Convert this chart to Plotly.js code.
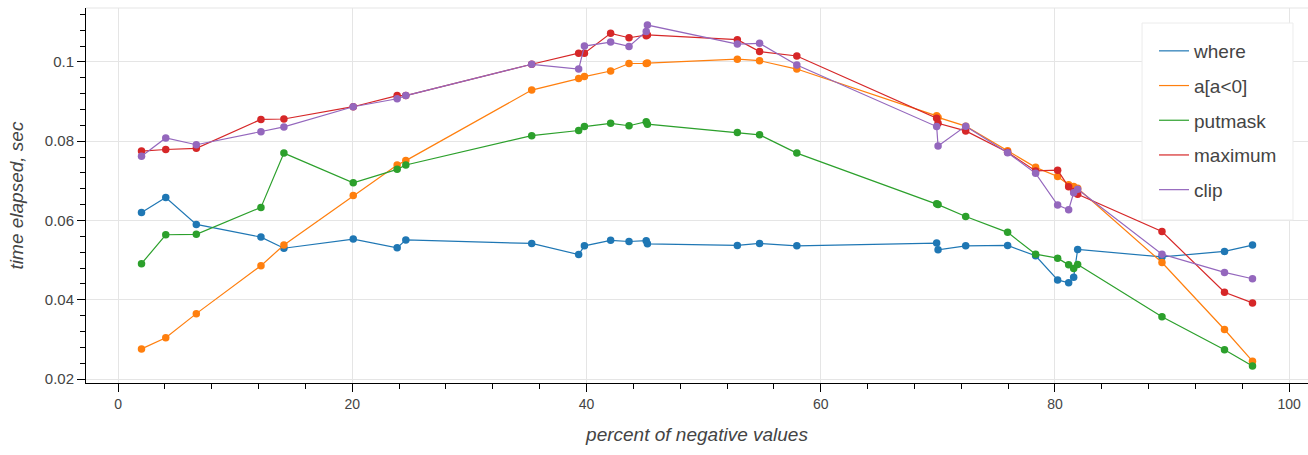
<!DOCTYPE html>
<html>
<head>
<meta charset="utf-8">
<script src="https://cdn.plot.ly/plotly-3.0.1.min.js"></script>
<style>html,body{margin:0;padding:0;background:#fff;overflow:hidden;}#chart{width:1308px;height:455px;}</style>
</head>
<body>
<div id="chart"></div>
<script>
const percentNegative = [2.0, 4.07, 6.68, 12.2, 14.16, 20.08, 23.83, 24.57, 35.32, 39.33, 39.82, 42.06, 43.63, 45.1, 45.2, 52.88, 54.78, 57.96, 69.9, 70.02, 72.38, 75.96, 78.35, 80.23, 81.17, 81.6, 81.94, 89.14, 94.48, 96.87];

const whereTimes = [0.0620, 0.0658, 0.0590, 0.0558, 0.0530, 0.0553, 0.0531, 0.0551, 0.0542, 0.0514, 0.0536, 0.0550, 0.0547, 0.0549, 0.0541, 0.0537, 0.0542, 0.0536, 0.0543, 0.0526, 0.0536, 0.0537, 0.0511, 0.0450, 0.0443, 0.0457, 0.0527, 0.0508, 0.0522, 0.0538];

const maskTimes = [0.0276, 0.0304, 0.0365, 0.0486, 0.0538, 0.0663, 0.0740, 0.0751, 0.0929, 0.0958, 0.0963, 0.0977, 0.0996, 0.0996, 0.0997, 0.1007, 0.1003, 0.0982, 0.0864, 0.0860, 0.0838, 0.0776, 0.0734, 0.0711, 0.0690, 0.0686, 0.0681, 0.0494, 0.0325, 0.0245];

const putmaskTimes = [0.0491, 0.0564, 0.0565, 0.0633, 0.0770, 0.0695, 0.0729, 0.0740, 0.0814, 0.0827, 0.0837, 0.0845, 0.0839, 0.0849, 0.0843, 0.0822, 0.0816, 0.0770, 0.0642, 0.0640, 0.0610, 0.0570, 0.0515, 0.0505, 0.0488, 0.0479, 0.0489, 0.0357, 0.0274, 0.0233];

const maximumTimes = [0.0775, 0.0779, 0.0782, 0.0855, 0.0856, 0.0887, 0.0915, 0.0915, 0.0994, 0.1022, 0.1022, 0.1072, 0.1061, 0.1066, 0.1068, 0.1056, 0.1026, 0.1015, 0.0858, 0.0845, 0.0826, 0.0772, 0.0725, 0.0727, 0.0685, 0.0673, 0.0666, 0.0572, 0.0419, 0.0392];

const clipTimes = [0.0762, 0.0808, 0.0791, 0.0824, 0.0836, 0.0887, 0.0907, 0.0915, 0.0994, 0.0982, 0.1040, 0.1050, 0.1039, 0.1077, 0.1093, 0.1045, 0.1047, 0.0992, 0.0837, 0.0788, 0.0838, 0.0771, 0.0719, 0.0639, 0.0627, 0.0670, 0.0679, 0.0515, 0.0469, 0.0453];

const seriesNames = ['where', 'a[a<0]', 'putmask', 'maximum', 'clip'];
const seriesColors = ['#1f77b4', '#ff7f0e', '#2ca02c', '#d62728', '#9467bd'];
const seriesValues = [whereTimes, maskTimes, putmaskTimes, maximumTimes, clipTimes];

const traces = [];
seriesValues.forEach((vals, i) => {
  traces.push({
    x: percentNegative, y: vals, type: 'scatter', mode: 'lines',
    name: seriesNames[i], legendgroup: 'g' + i,
    line: {color: seriesColors[i], width: 1.2},
    hoverinfo: 'skip'
  });
  traces.push({
    x: percentNegative, y: vals, type: 'scatter', mode: 'markers',
    name: seriesNames[i], legendgroup: 'g' + i, showlegend: false,
    marker: {color: seriesColors[i], size: 7.5, line: {width: 0}}
  });
});

const font = 'Liberation Sans, Arial, Helvetica, sans-serif';

const layout = {
  width: 1308, height: 455,
  margin: {l: 86, r: 0, t: 8, b: 72},
  paper_bgcolor: '#ffffff', plot_bgcolor: '#ffffff',
  font: {family: font, color: '#444444', size: 14},
  showlegend: true,
  legend: {
    x: 0.874, y: 0.936, xanchor: 'left', yanchor: 'top',
    bgcolor: 'rgba(0,0,0,0)', borderwidth: 0,
    font: {family: font, size: 19, color: '#444444'},
    tracegroupgap: 7, itemwidth: 30
  },
  xaxis: {
    range: [-2.74, 101.61], dtick: 20, tick0: 0,
    showgrid: true, gridcolor: '#e5e5e5', gridwidth: 1,
    zeroline: false, showline: true, linecolor: '#000000', linewidth: 1,
    ticks: 'outside', ticklen: 8, tickcolor: '#000000', tickwidth: 1,
    minor: {dtick: 4, tick0: 0, ticks: 'outside', ticklen: 5, tickcolor: '#000000', showgrid: false},
    tickfont: {size: 14, color: '#444444'},
    title: {text: 'percent of negative values', font: {size: 19, style: 'italic', color: '#444444'}, standoff: 16}
  },
  yaxis: {
    range: [0.0190, 0.1136], dtick: 0.02, tick0: 0.02,
    showgrid: true, gridcolor: '#e5e5e5', gridwidth: 1,
    zeroline: false, showline: true, linecolor: '#000000', linewidth: 1,
    ticks: 'outside', ticklen: 8, tickcolor: '#000000', tickwidth: 1,
    minor: {dtick: 0.004, tick0: 0.02, ticks: 'outside', ticklen: 5, tickcolor: '#000000', showgrid: false},
    tickfont: {size: 15, color: '#444444'},
    title: {text: 'time elapsed, sec', font: {size: 19, style: 'italic', color: '#444444'}, standoff: 16}
  },
  shapes: [
    {type: 'line', xref: 'paper', yref: 'paper', x0: 0, x1: 1, y0: 1, y1: 1,
     line: {color: '#e5e5e5', width: 1}, layer: 'below'},
    {type: 'rect', xref: 'paper', yref: 'paper', x0: 0.8642, x1: 0.9877, y0: 0.4347, y1: 0.96,
     fillcolor: '#ffffff', line: {color: '#ececec', width: 1}, layer: 'above'}
  ]
};

Plotly.newPlot('chart', traces, layout, {displayModeBar: false, staticPlot: true});
</script>
</body>
</html>
